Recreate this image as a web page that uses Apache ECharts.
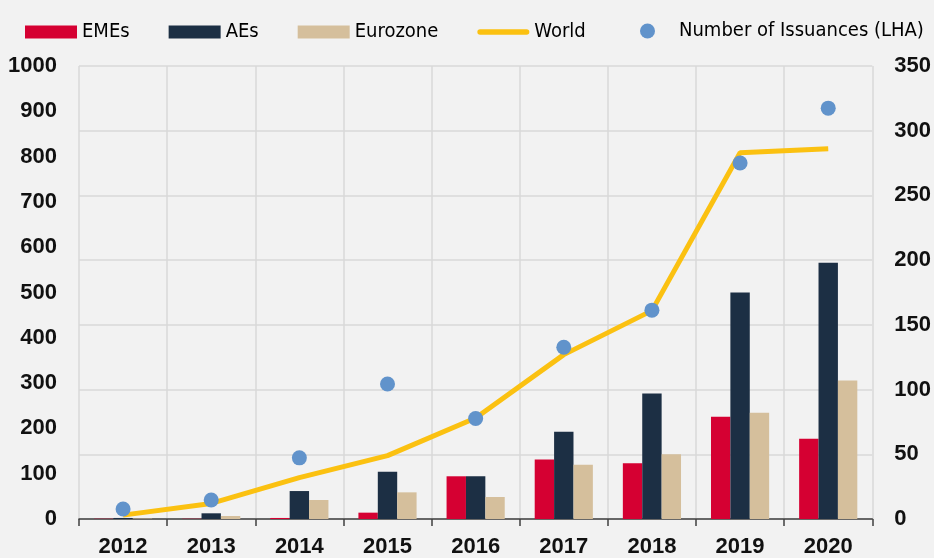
<!DOCTYPE html>
<html>
<head>
<meta charset="utf-8">
<script src="https://cdn.jsdelivr.net/npm/echarts@6/dist/echarts.min.js"></script>
<style>
  html, body { margin: 0; padding: 0; background: #f2f2f2; }
  #chart { width: 934px; height: 558px; }
</style>
</head>
<body>
<div id="chart"></div>
<script>
// years on the x axis
const years = ['2012', '2013', '2014', '2015', '2016', '2017', '2018', '2019', '2020'];
// bars and world line, right-hand axis
const emes = [0.2, 0.2, 0.8, 4.9, 33, 46, 43, 79, 62];
const aes = [0.8, 4.4, 21.6, 36.6, 33, 67.5, 97, 175, 198];
const eurozone = [0.3, 2.3, 14.7, 20.6, 17, 42, 50, 82, 107];
const world = [3, 12, 32, 49, 78, 127, 161, 283, 286];
// dots, left-hand axis
const issuances = [22, 42, 135, 298, 222, 379, 461, 786, 907];

const labelFont = '"Liberation Sans", Arial, sans-serif';
const legendFont = '"Liberation Sans Narrow", "DejaVu Sans Condensed", sans-serif';

// rounded thick stroke for the World legend entry
const lineIcon = 'path://M3,0 L53,0 A3,3 0 0 1 53,6 L3,6 A3,3 0 0 1 3,0 Z';

const chart = echarts.init(document.getElementById('chart'));

const axisText = {
    fontFamily: labelFont,
    fontSize: 22,
    fontWeight: 'bold',
    color: '#111'
};

const legendText = {
    fontFamily: legendFont,
    fontSize: 20,
    color: '#000'
};

const option = {
    backgroundColor: '#f2f2f2',
    animation: false,
    legend: [
        {
            left: 25,
            top: 22,
            padding: 0,
            itemWidth: 52,
            itemHeight: 13,
            itemGap: 39,
            textStyle: legendText,
            data: [
                { name: 'EMEs', icon: 'rect' },
                { name: 'AEs', icon: 'rect' },
                { name: 'Eurozone', icon: 'rect' },
                { name: 'World', icon: lineIcon }
            ]
        },
        {
            left: 640,
            top: 21,
            padding: 0,
            itemWidth: 15,
            itemHeight: 15,
            textStyle: Object.assign({ padding: [0, 0, 0, 19] }, legendText),
            data: [
                { name: 'Number of Issuances (LHA)', icon: 'circle' }
            ]
        }
    ],
    grid: {
        left: 79,
        right: 59,
        top: 66,
        bottom: 39
    },
    xAxis: {
        type: 'category',
        data: years,
        boundaryGap: true,
        axisLine: { lineStyle: { color: '#404040', width: 1.5 } },
        axisTick: { show: true, length: 7, lineStyle: { color: '#404040', width: 1.5 } },
        splitLine: { show: true, lineStyle: { color: '#d9d9d9', width: 1.5 } },
        axisLabel: Object.assign({ margin: 17 }, axisText)
    },
    yAxis: [
        {
            type: 'value',
            min: 0,
            max: 1000,
            interval: 100,
            splitLine: { show: false },
            axisLine: { show: false },
            axisTick: { show: false },
            axisLabel: Object.assign({ margin: 22, formatter: v => String(v) }, axisText)
        },
        {
            type: 'value',
            min: 0,
            max: 350,
            interval: 50,
            position: 'right',
            splitLine: { show: true, lineStyle: { color: '#d9d9d9', width: 1.5 } },
            axisLine: { show: false },
            axisTick: { show: false },
            axisLabel: Object.assign({ margin: 22 }, axisText)
        }
    ],
    series: [
        {
            name: 'EMEs',
            type: 'bar',
            yAxisIndex: 1,
            data: emes,
            barGap: '0%',
            barCategoryGap: '34%',
            itemStyle: { color: '#d50032' }
        },
        {
            name: 'AEs',
            type: 'bar',
            yAxisIndex: 1,
            data: aes,
            itemStyle: { color: '#1c2f44' }
        },
        {
            name: 'Eurozone',
            type: 'bar',
            yAxisIndex: 1,
            data: eurozone,
            itemStyle: { color: '#d5bf9c' }
        },
        {
            name: 'World',
            type: 'line',
            yAxisIndex: 1,
            data: world,
            symbol: 'none',
            z: 3,
            lineStyle: { color: '#fbc111', width: 5 },
            itemStyle: { color: '#fbc111' }
        },
        {
            name: 'Number of Issuances (LHA)',
            type: 'scatter',
            yAxisIndex: 0,
            data: issuances,
            symbolSize: 15,
            z: 4,
            itemStyle: { color: '#6193cb', opacity: 1 }
        }
    ]
};

chart.setOption(option);
</script>
</body>
</html>
